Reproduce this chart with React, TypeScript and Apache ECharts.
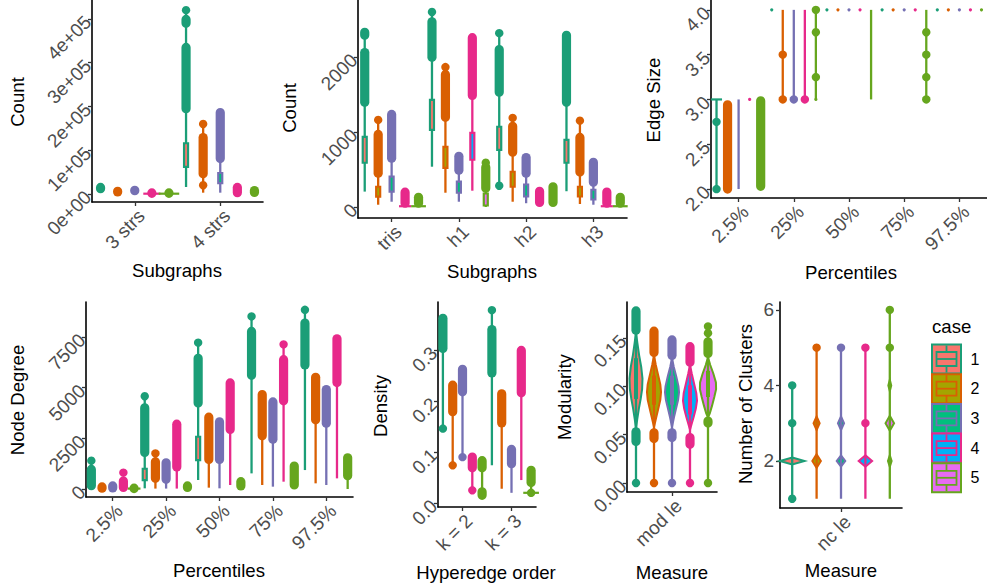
import React, { useEffect, useRef } from "react";
import * as echarts from "echarts";

const DARK = ["#1B9E77", "#D95F02", "#7570B3", "#E7298A", "#66A61E"];
const HUE = ["#F8766D", "#A3A500", "#00BF7D", "#00B0F6", "#E76BF3"];
const caseLabels = ["1", "2", "3", "4", "5"];
const FONT = '"Liberation Sans", Arial, Helvetica, sans-serif';

// rows: [categoryIndex, caseIndex, low, high]  /  dots: [cat, case, value]  / flats: [cat, case, value, halfWidth]
// ---------- Panel 1: Subgraphs (Count) ----------
const p1Cats = ["3 strs", "4 strs"];
const p1Ticks = [0, 100000, 200000, 300000, 400000];
const p1Whiskers = [
  [1, 0, 16000, 420000], [1, 1, 3000, 160000], [1, 2, 3000, 186000],
];
const p1Boxes = [[1, 0, 62000, 116000], [1, 2, 25000, 48000]];
const p1Bands = [
  [0, 0, 12000, 15000], [0, 1, 4500, 6000], [0, 2, 7500, 8500], [0, 3, 1500, 2500], [0, 4, 1500, 2500],
  [1, 0, 195000, 335000], [1, 0, 390000, 399000], [1, 1, 46000, 129000], [1, 2, 81000, 186000],
  [1, 3, 3000, 15000], [1, 4, 3500, 8000],
];
const p1Dots = [[1, 0, 420000], [1, 1, 160000], [1, 1, 20000]];
const p1Flats = [[0, 3, 700, 0.1], [0, 4, 700, 0.12]];

// ---------- Panel 2: Subgraphs (Count) ----------
const p2Cats = ["tris", "h1", "h2", "h3"];
const p2Ticks = [0, 1000, 2000];
const p2Whiskers = [
  [0, 0, 205, 2330], [0, 1, 30, 1160], [0, 2, 70, 1234],
  [1, 0, 537, 2600], [1, 1, 190, 1866], [1, 2, 70, 675], [1, 3, 217, 2257], [1, 4, 0, 590],
  [2, 0, 283, 2318], [2, 1, 70, 1187], [2, 2, 50, 660],
  [3, 0, 210, 2290], [3, 1, 40, 1150], [3, 2, 30, 595],
];
const p2Boxes = [
  [0, 0, 590, 935], [0, 1, 137, 270], [0, 2, 205, 405],
  [1, 0, 1027, 1427], [1, 1, 522, 802], [1, 2, 190, 337], [1, 3, 630, 987], [1, 4, 20, 180],
  [2, 0, 762, 1070], [2, 1, 270, 470], [2, 2, 140, 300],
  [3, 0, 590, 895], [3, 1, 140, 270], [3, 2, 100, 230],
];
const p2Bands = [
  [0, 0, 1395, 2060], [0, 0, 2290, 2330], [0, 1, 450, 967], [0, 2, 650, 1234], [0, 3, 50, 197], [0, 4, 50, 130],
  [1, 0, 1995, 2470], [1, 1, 1195, 1767], [1, 2, 490, 675], [1, 3, 1487, 2257], [1, 4, 250, 530],
  [2, 0, 1530, 2100], [2, 1, 730, 1076], [2, 2, 450, 660], [2, 3, 60, 210], [2, 4, 60, 270],
  [3, 0, 1396, 2290], [3, 1, 465, 927], [3, 2, 330, 595], [3, 3, 50, 200], [3, 4, 50, 130],
];
const p2Dots = [[0, 1, 1160], [1, 0, 2600], [1, 1, 1866], [1, 4, 590], [2, 0, 2318], [2, 0, 283], [2, 1, 1187], [3, 1, 1150]];
const p2Flats = [[0, 3, 10, 0.09], [0, 4, 10, 0.11], [3, 3, 10, 0.09], [3, 4, 10, 0.11]];

// ---------- Panel 3: Percentiles (Edge Size) ----------
const pctCats = ["2.5%", "25%", "50%", "75%", "97.5%"];
const p3Ticks = [2.0, 2.5, 3.0, 3.5, 4.0];
const p3Whiskers = [
  [0, 0, 2, 3], [0, 1, 2, 2.95], [0, 2, 2, 3],
  [1, 1, 3, 4], [1, 2, 3, 4], [1, 3, 3, 4], [1, 4, 3, 4],
  [2, 4, 3, 4], [3, 4, 3, 4],
];
const p3Bands = [[0, 1, 2.0, 2.94], [0, 4, 2.03, 2.985]];
const p3Dots = [
  [0, 0, 2.75], [0, 0, 2.0], [1, 1, 3.5], [1, 1, 3.0], [1, 2, 3.0], [1, 3, 3.0],
  [1, 4, 4.0], [1, 4, 3.75], [1, 4, 3.25], [3, 4, 3.75], [3, 4, 3.5], [3, 4, 3.25], [3, 4, 3.0],
];
const p3Tinies = [
  [0, 3, 3.0], [1, 0, 4], [1, 4, 3.0], [2, 0, 4], [2, 1, 4], [2, 2, 4], [2, 3, 4],
  [3, 0, 4], [3, 1, 4], [3, 2, 4], [3, 3, 4], [4, 0, 4], [4, 1, 4], [4, 2, 4], [4, 3, 4], [4, 4, 4],
];
const p3Flats = [[0, 0, 3.0, 0.1]];

// ---------- Panel 4: Percentiles (Node Degree) ----------
const p4Ticks = [0, 2500, 5000, 7500];
const p4Whiskers = [
  [0, 0, 0, 1395],
  [1, 0, 33, 4578], [1, 1, 20, 1756], [1, 2, 20, 1296], [1, 3, 20, 3200],
  [2, 0, 443, 7220], [2, 1, 66, 3544], [2, 2, 33, 3315], [2, 3, 197, 5235],
  [3, 0, 771, 8517], [3, 1, 197, 4660], [3, 2, 115, 4300], [3, 3, 361, 7140],
  [4, 0, 935, 8845], [4, 1, 279, 5514], [4, 2, 197, 4907], [4, 3, 525, 7417], [4, 4, 0, 1543],
];
const p4Boxes = [[1, 0, 440, 1000], [2, 0, 1430, 2580]];
const p4Bands = [
  [0, 0, 164, 968], [0, 1, 40, 100], [0, 2, 50, 150], [0, 3, 80, 390], [0, 4, 20, 40],
  [1, 0, 1805, 4004], [1, 1, 525, 1346], [1, 2, 476, 1296], [1, 3, 1083, 3200], [1, 4, 80, 150],
  [2, 0, 4250, 6449], [2, 1, 1460, 3544], [2, 2, 1460, 3315], [2, 3, 2937, 5235], [2, 4, 150, 360],
  [3, 0, 5612, 7778], [3, 1, 2626, 4660], [3, 2, 2461, 4300], [3, 3, 4350, 6383], [3, 4, 197, 1132],
  [4, 0, 6121, 8190], [4, 1, 3413, 5514], [4, 2, 3250, 4907], [4, 3, 5251, 7417], [4, 4, 656, 1543],
];
const p4Dots = [[0, 0, 1395], [0, 3, 804], [1, 0, 4578], [1, 1, 1756], [2, 0, 7220], [3, 0, 8517], [3, 3, 7140], [4, 0, 8845]];
const p4Flats = [[0, 4, 20, 0.12]];

// ---------- Panel 5: Hyperedge order (Density) ----------
const p5Cats = ["k = 2", "k = 3"];
const p5Ticks = [0.0, 0.1, 0.2, 0.3];
const p5Whiskers = [
  [0, 0, 0.146, 0.362], [0, 1, 0.074, 0.231], [0, 2, 0.09, 0.262], [0, 3, 0.025, 0.09], [0, 4, 0.018, 0.083],
  [1, 0, 0.074, 0.378], [1, 1, 0.028, 0.214], [1, 2, 0.02, 0.105], [1, 3, 0.045, 0.299], [1, 4, 0.02, 0.064],
];
const p5Bands = [
  [0, 0, 0.303, 0.362], [0, 1, 0.179, 0.231], [0, 2, 0.218, 0.262], [0, 3, 0.069, 0.09], [0, 4, 0.069, 0.083], [0, 4, 0.015, 0.022],
  [1, 0, 0.255, 0.34], [1, 1, 0.157, 0.214], [1, 2, 0.077, 0.105], [1, 3, 0.216, 0.299], [1, 4, 0.04, 0.064],
];
const p5Dots = [[0, 0, 0.146], [0, 1, 0.074], [0, 2, 0.09], [0, 3, 0.025], [1, 0, 0.378], [1, 4, 0.02]];
const p5Flats = [[1, 4, 0.02, 0.16]];

// ---------- Panel 6: Measure (Modularity) ----------
const p6Cats = ["mod le"];
const p6Ticks = [0.0, 0.05, 0.1, 0.15];
const p6Whiskers = [[0, 0, 0, 0.178], [0, 1, 0, 0.157], [0, 2, 0, 0.148], [0, 3, 0, 0.141], [0, 4, 0, 0.162]];
const p6Boxes = [[0, 0, 0.088, 0.128], [0, 1, 0.082, 0.11], [0, 2, 0.082, 0.11], [0, 3, 0.072, 0.1], [0, 4, 0.09, 0.115]];
const p6Bands = [
  [0, 0, 0.158, 0.178], [0, 0, 0.043, 0.053], [0, 1, 0.135, 0.157], [0, 1, 0.046, 0.052],
  [0, 2, 0.132, 0.148], [0, 2, 0.047, 0.052], [0, 3, 0.125, 0.141], [0, 3, 0.04, 0.047],
  [0, 4, 0.134, 0.146], [0, 4, 0.062, 0.064],
];
const p6Dots = [[0, 0, 0], [0, 1, 0], [0, 2, 0], [0, 3, 0], [0, 4, 0], [0, 4, 0.162], [0, 4, 0.155]];
// violins: [cat, case, [[value, halfWidth], ...]]
const p6Violins = [
  [0, 0, [[0.156, 0], [0.145, 0.015], [0.132, 0.035], [0.12, 0.058], [0.108, 0.072], [0.097, 0.068], [0.087, 0.052], [0.077, 0.032], [0.066, 0.014], [0.056, 0]]],
  [0, 1, [[0.132, 0], [0.122, 0.02], [0.112, 0.045], [0.102, 0.07], [0.094, 0.078], [0.086, 0.07], [0.077, 0.048], [0.068, 0.025], [0.058, 0]]],
  [0, 2, [[0.129, 0], [0.12, 0.02], [0.11, 0.048], [0.1, 0.072], [0.094, 0.078], [0.086, 0.068], [0.077, 0.045], [0.068, 0.022], [0.058, 0]]],
  [0, 3, [[0.122, 0], [0.113, 0.02], [0.103, 0.045], [0.093, 0.07], [0.085, 0.078], [0.077, 0.065], [0.068, 0.04], [0.06, 0.015], [0.055, 0]]],
  [0, 4, [[0.13, 0], [0.122, 0.025], [0.113, 0.06], [0.104, 0.088], [0.097, 0.09], [0.089, 0.07], [0.08, 0.045], [0.072, 0.02], [0.068, 0]]],
];

// ---------- Panel 7: Measure (Number of Clusters) ----------
const p7Cats = ["nc le"];
const p7Ticks = [2, 4, 6];
const p7Whiskers = [[0, 0, 1, 4], [0, 1, 1, 5], [0, 2, 1, 5], [0, 3, 1, 5], [0, 4, 1, 6]];
const p7Dots = [[0, 0, 1], [0, 0, 3], [0, 0, 4], [0, 1, 5], [0, 2, 5], [0, 3, 5], [0, 3, 3], [0, 4, 6], [0, 4, 5]];
const p7Violins = [
  [0, 0, [[2.09, 0], [2, 0.1], [1.91, 0]]],
  [0, 1, [[2.18, 0], [2, 0.035], [1.82, 0]]],
  [0, 1, [[3.18, 0], [3, 0.025], [2.82, 0]]],
  [0, 2, [[2.15, 0], [2, 0.035], [1.85, 0]]],
  [0, 2, [[3.18, 0], [3, 0.025], [2.82, 0]]],
  [0, 3, [[2.15, 0], [2, 0.055], [1.85, 0]]],
  [0, 4, [[2.15, 0], [2, 0.015], [1.85, 0]]],
  [0, 4, [[3.2, 0], [3, 0.035], [2.8, 0]]],
  [0, 4, [[4.15, 0], [4, 0.012], [3.85, 0]]],
];

const fmt1 = (v: number) => v.toFixed(1);
const fmtInt = (v: number) => String(Math.round(v));

const panels: any[] = [
  {
    grid: { left: 92, top: 0, width: 171, height: 202 }, cats: p1Cats, yMin: -18300, yMax: 443400, ticks: p1Ticks,
    fmt: (v: number) => (v === 0 ? "0e+00" : `${Math.round(v / 1e5)}e+05`), yRot: 45, yMargin: 4,
    xTitle: "Subgraphs", yTitle: "Count", xt: [177, 270], yt: [17, 102], boxW: 4, boxLW: 2.2,
    whiskers: p1Whiskers, boxes: p1Boxes, bands: p1Bands, dots: p1Dots, flats: p1Flats, tinies: [], violins: [],
  },
  {
    grid: { left: 358, top: 0, width: 269, height: 218 }, cats: p2Cats, yMin: -147, yMax: 2760, ticks: p2Ticks, fmt: fmtInt,
    yRot: 45, yMargin: 4,
    xTitle: "Subgraphs", yTitle: "Count", xt: [492, 271], yt: [289, 108], boxW: 4, boxLW: 2.2,
    whiskers: p2Whiskers, boxes: p2Boxes, bands: p2Bands, dots: p2Dots, flats: p2Flats, tinies: [], violins: [],
  },
  {
    grid: { left: 711, top: 0, width: 276, height: 198 }, cats: pctCats, yMin: 1.9, yMax: 4.11, ticks: p3Ticks, fmt: fmt1,
    yRot: 45, yMargin: 4,
    xTitle: "Percentiles", yTitle: "Edge Size", xt: [851, 272], yt: [653, 100], boxW: 4, boxLW: 2.2,
    whiskers: p3Whiskers, boxes: [], bands: p3Bands, dots: p3Dots, flats: p3Flats, tinies: p3Tinies, violins: [],
  },
  {
    grid: { left: 86, top: 302, width: 267, height: 195 }, cats: pctCats, yMin: -395, yMax: 9230, ticks: p4Ticks, fmt: fmtInt,
    yRot: 45, yMargin: 4,
    xTitle: "Percentiles", yTitle: "Node Degree", xt: [219, 570], yt: [17, 400], boxW: 4, boxLW: 2.2,
    whiskers: p4Whiskers, boxes: p4Boxes, bands: p4Bands, dots: p4Dots, flats: p4Flats, tinies: [], violins: [],
  },
  {
    grid: { left: 438, top: 302, width: 98, height: 205 }, cats: p5Cats, yMin: -0.0078, yMax: 0.394, ticks: p5Ticks, fmt: fmt1,
    yRot: 45, yMargin: 4,
    xTitle: "Hyperedge order", yTitle: "Density", xt: [486, 572], yt: [380, 406], boxW: 4, boxLW: 2.2,
    whiskers: p5Whiskers, boxes: [], bands: p5Bands, dots: p5Dots, flats: p5Flats, tinies: [], violins: [],
  },
  {
    grid: { left: 627, top: 302, width: 90, height: 190 }, cats: p6Cats, yMin: -0.0093, yMax: 0.1872, ticks: p6Ticks,
    fmt: (v: number) => v.toFixed(2), yRot: 45, yMargin: 4,
    xTitle: "Measure", yTitle: "Modularity", xt: [672, 572], yt: [564, 397], boxW: 2, boxLW: 2,
    whiskers: p6Whiskers, boxes: p6Boxes, bands: p6Bands, dots: p6Dots, flats: [], tinies: [], violins: p6Violins,
  },
  {
    grid: { left: 780, top: 302, width: 122, height: 206 }, cats: p7Cats, yMin: 0.755, yMax: 6.21, ticks: p7Ticks, fmt: fmtInt,
    yRot: 0, yMargin: 6,
    xTitle: "Measure", yTitle: "Number of Clusters", xt: [841, 570], yt: [745, 404], boxW: 4, boxLW: 2.2,
    whiskers: p7Whiskers, boxes: [], bands: [], dots: p7Dots, flats: [], tinies: [], violins: p7Violins,
  },
];

function customSeries(i: number, rows: any[], draw: (r: any, cx: number, Y: (v: number) => number, bw: number) => any) {
  return {
    type: "custom",
    xAxisIndex: i,
    yAxisIndex: i,
    silent: true,
    clip: false,
    animation: false,
    data: rows.map((r) => [r[0], typeof r[2] === "number" ? r[2] : r[2][0][0]]),
    encode: { x: 0, y: 1 },
    renderItem: (params: any, api: any) => {
      const r = rows[params.dataIndex];
      const bw = api.size([1, 0])[0];
      const cx = api.coord([r[0], 0])[0] + (r[1] - 2) * 0.2 * bw;
      const Y = (v: number) => api.coord([r[0], v])[1];
      return draw(r, cx, Y, bw);
    },
  };
}

function buildOption() {
  const grid: any[] = [];
  const xAxis: any[] = [];
  const yAxis: any[] = [];
  const series: any[] = [];
  const graphic: any[] = [];

  panels.forEach((p, i) => {
    grid.push({ ...p.grid, containLabel: false });
    xAxis.push({
      type: "category",
      gridIndex: i,
      data: p.cats,
      boundaryGap: true,
      axisLine: { show: true, onZero: false, lineStyle: { color: "#000", width: 1.6 } },
      axisTick: { show: true, alignWithLabel: true, length: 4, lineStyle: { color: "#333", width: 1.3 } },
      axisLabel: {
        interval: 0, rotate: 45, color: "#4D4D4D", fontSize: 19, fontFamily: FONT, margin: 4,
        align: "right", verticalAlign: "top",
      },
      splitLine: { show: false },
    });
    yAxis.push({
      type: "value",
      gridIndex: i,
      min: p.yMin,
      max: p.yMax,
      axisLine: { show: true, onZero: false, lineStyle: { color: "#000", width: 1.6 } },
      axisTick: { show: true, length: 4, customValues: p.ticks, lineStyle: { color: "#333", width: 1.3 } },
      axisLabel: {
        customValues: p.ticks, formatter: p.fmt, rotate: p.yRot, color: "#4D4D4D", fontSize: 19, fontFamily: FONT,
        margin: p.yMargin,
      },
      splitLine: { show: false },
    });

    const boxW = p.boxW;
    const boxLW = p.boxLW;
    series.push(customSeries(i, p.violins, (r, cx, Y, bw) => {
      const prof: number[][] = r[2];
      const right = prof.map((q) => [cx + q[1] * bw, Y(q[0])]);
      const left = prof.slice().reverse().map((q) => [cx - q[1] * bw, Y(q[0])]);
      return {
        type: "polygon",
        shape: { points: right.concat(left) },
        style: { fill: HUE[r[1]], stroke: DARK[r[1]], lineWidth: 2 },
      };
    }));
    series.push(customSeries(i, p.whiskers, (r, cx, Y) => ({
      type: "line",
      shape: { x1: cx, y1: Y(r[2]), x2: cx, y2: Y(r[3]) },
      style: { stroke: DARK[r[1]], lineWidth: 2.3 },
    })));
    series.push(customSeries(i, p.boxes, (r, cx, Y) => ({
      type: "rect",
      shape: { x: cx - boxW / 2, y: Y(r[3]), width: boxW, height: Y(r[2]) - Y(r[3]) },
      style: { fill: HUE[r[1]], stroke: DARK[r[1]], lineWidth: boxLW },
    })));
    series.push(customSeries(i, p.flats, (r, cx, Y, bw) => ({
      type: "line",
      shape: { x1: cx - r[3] * bw, y1: Y(r[2]), x2: cx + r[3] * bw, y2: Y(r[2]) },
      style: { stroke: DARK[r[1]], lineWidth: 2.2 },
    })));
    series.push(customSeries(i, p.bands, (r, cx, Y) => {
      const top = Y(r[3]);
      const bot = Y(r[2]);
      return {
        type: "rect",
        shape: { x: cx - 4.6, y: top - 4.6, width: 9.2, height: bot - top + 9.2, r: 4.6 },
        style: { fill: DARK[r[1]] },
      };
    }));
    series.push(customSeries(i, p.dots, (r, cx, Y) => ({
      type: "circle",
      shape: { cx, cy: Y(r[2]), r: 4.2 },
      style: { fill: DARK[r[1]] },
    })));
    series.push(customSeries(i, p.tinies, (r, cx, Y) => ({
      type: "circle",
      shape: { cx, cy: Y(r[2]), r: 1.6 },
      style: { fill: DARK[r[1]] },
    })));

    graphic.push({
      type: "text", x: p.xt[0], y: p.xt[1],
      style: { text: p.xTitle, fill: "#000", fontSize: 18.6, fontFamily: FONT, textAlign: "center", textVerticalAlign: "middle" },
    });
    graphic.push({
      type: "text", x: p.yt[0], y: p.yt[1], rotation: Math.PI / 2,
      style: { text: p.yTitle, fill: "#000", fontSize: 18.6, fontFamily: FONT, textAlign: "center", textVerticalAlign: "middle" },
    });
  });

  // legend
  graphic.push({
    type: "text", x: 932, y: 326,
    style: { text: "case", fill: "#000", fontSize: 18.6, fontFamily: FONT, textAlign: "left", textVerticalAlign: "middle" },
  });
  caseLabels.forEach((lab, k) => {
    const x0 = 932;
    const y0 = 344.5 + k * 29.7;
    const s = 29;
    graphic.push({
      type: "group",
      children: [
        { type: "rect", shape: { x: x0, y: y0, width: s, height: s }, style: { fill: HUE[k], stroke: DARK[k], lineWidth: 2 } },
        { type: "rect", shape: { x: x0 + 4.5, y: y0 + 7.5, width: s - 9, height: 14 }, style: { fill: HUE[k], stroke: DARK[k], lineWidth: 1.8 } },
        { type: "line", shape: { x1: x0 + 4.5, y1: y0 + 14.5, x2: x0 + s - 4.5, y2: y0 + 14.5 }, style: { stroke: DARK[k], lineWidth: 1.8 } },
        { type: "line", shape: { x1: x0 + s / 2, y1: y0 + 1, x2: x0 + s / 2, y2: y0 + 7.5 }, style: { stroke: DARK[k], lineWidth: 1.8 } },
        { type: "line", shape: { x1: x0 + s / 2, y1: y0 + 21.5, x2: x0 + s / 2, y2: y0 + s - 1 }, style: { stroke: DARK[k], lineWidth: 1.8 } },
      ],
    });
    graphic.push({
      type: "text", x: 975, y: y0 + s / 2,
      style: { text: lab, fill: "#000", fontSize: 16, fontFamily: FONT, textAlign: "center", textVerticalAlign: "middle" },
    });
  });

  return {
    animation: false,
    backgroundColor: "#ffffff",
    textStyle: { fontFamily: FONT },
    grid,
    xAxis,
    yAxis,
    series,
    graphic,
  };
}

export default function App() {
  const ref = useRef<HTMLDivElement>(null);
  useEffect(() => {
    const chart = echarts.init(ref.current as HTMLDivElement, null, { renderer: "svg" });
    chart.setOption(buildOption() as any);
    return () => chart.dispose();
  }, []);
  return (
    <div
      ref={ref}
      style={{ position: "fixed", left: 0, top: 0, width: 987, height: 588, background: "#ffffff" }}
    />
  );
}
